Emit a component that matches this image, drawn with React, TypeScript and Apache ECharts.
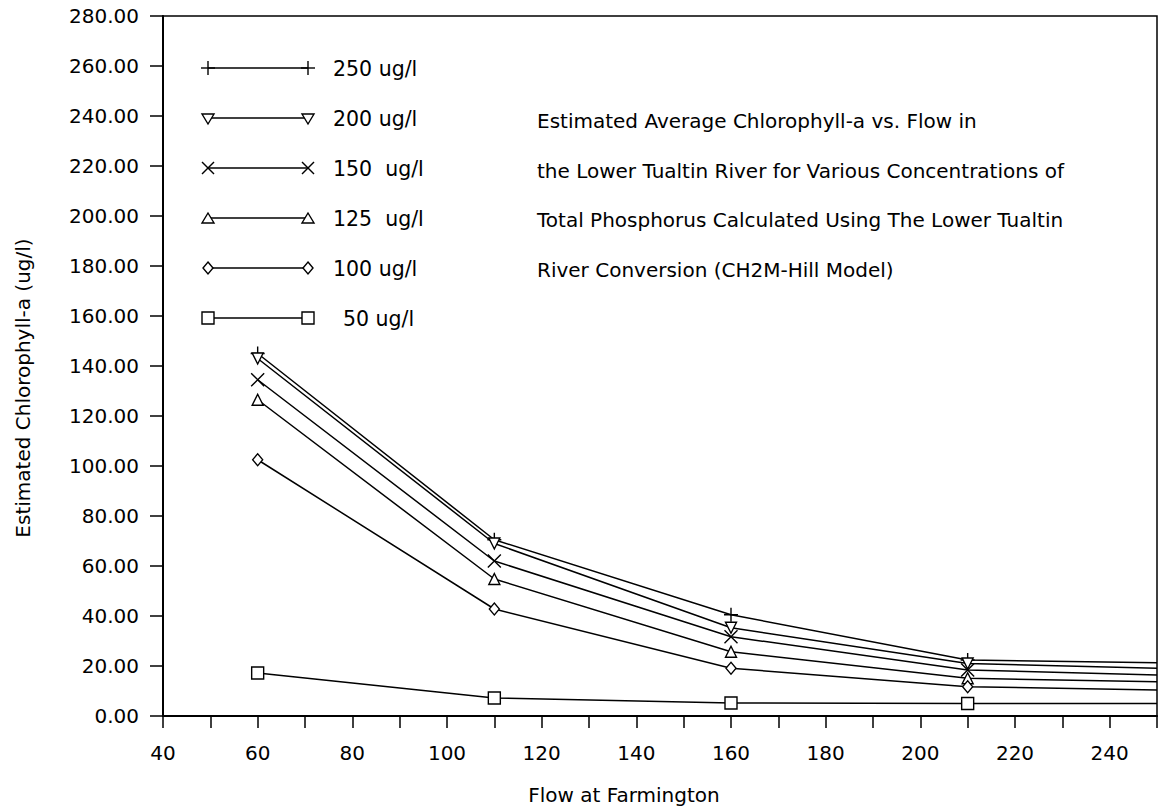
import React, { useEffect, useRef } from "react";
import * as echarts from "echarts";

// ---- data ----
const flows = [60, 110, 160, 210, 250];
const tp250 = [145, 70.5, 40.5, 22.4, 21.3];
const tp200 = [143, 69, 35.3, 21.0, 19.1];
const tp150 = [134.5, 62, 31.7, 18.4, 16.4];
const tp125 = [126.5, 54.8, 25.7, 15.1, 13.7];
const tp100 = [102.5, 42.8, 19.1, 11.7, 10.4];
const tp50 = [17.2, 7.2, 5.2, 5.0, 5.0];
const seriesNames = ["250 ug/l", "200 ug/l", "150  ug/l", "125  ug/l", "100 ug/l", "50 ug/l"];
const seriesValues = [tp250, tp200, tp150, tp125, tp100, tp50];
const markerKinds = ["plus", "triDown", "cross", "triUp", "diamond", "square"];
const titleLines = [
  "Estimated Average Chlorophyll-a vs. Flow in",
  "the Lower Tualtin River for Various Concentrations of",
  "Total Phosphorus Calculated Using The Lower Tualtin",
  "River Conversion (CH2M-Hill Model)",
];
const xAxisName = "Flow at Farmington";
const yAxisName = "Estimated Chlorophyll-a (ug/l)";
const xMin = 40;
const xMax = 250;
const xStep = 10;
const xLabelStep = 20;
const yMin = 0;
const yMax = 280;
const yStep = 20;

const FONT = "DejaVu Sans";
const INK = "#000";

const symbolFor: Record<string, any> = {
  plus: { symbol: "path://M5,0L5,10M0,5L10,5", symbolSize: 14, symbolRotate: 0 },
  triDown: { symbol: "triangle", symbolSize: 11, symbolRotate: 180 },
  cross: { symbol: "path://M0,0L10,10M10,0L0,10", symbolSize: 13, symbolRotate: 0 },
  triUp: { symbol: "triangle", symbolSize: 11, symbolRotate: 0 },
  diamond: { symbol: "path://M5,0L10,6L5,12L0,6Z", symbolSize: [10, 12], symbolRotate: 0 },
  square: { symbol: "rect", symbolSize: 12, symbolRotate: 0 },
};

function legendMarker(kind: string, cx: number, cy: number): any[] {
  const st = { stroke: INK, lineWidth: 1.4, fill: "#fff" };
  switch (kind) {
    case "plus":
      return [
        { type: "line", shape: { x1: cx - 7, y1: cy, x2: cx + 7, y2: cy }, style: st },
        { type: "line", shape: { x1: cx, y1: cy - 7, x2: cx, y2: cy + 7 }, style: st },
      ];
    case "cross":
      return [
        { type: "line", shape: { x1: cx - 6, y1: cy - 6, x2: cx + 6, y2: cy + 6 }, style: st },
        { type: "line", shape: { x1: cx + 6, y1: cy - 6, x2: cx - 6, y2: cy + 6 }, style: st },
      ];
    case "triDown":
      return [
        { type: "polygon", shape: { points: [[cx - 6, cy - 4], [cx + 6, cy - 4], [cx, cy + 6]] }, style: st },
      ];
    case "triUp":
      return [
        { type: "polygon", shape: { points: [[cx - 6, cy + 5], [cx + 6, cy + 5], [cx, cy - 5]] }, style: st },
      ];
    case "diamond":
      return [
        { type: "polygon", shape: { points: [[cx, cy - 6], [cx + 5, cy], [cx, cy + 6], [cx - 5, cy]] }, style: st },
      ];
    default:
      return [{ type: "rect", shape: { x: cx - 6, y: cy - 6, width: 12, height: 12 }, style: st }];
  }
}

export default function App() {
  const ref = useRef<HTMLDivElement>(null);

  useEffect(() => {
    document.body.style.margin = "0";
    document.body.style.overflow = "hidden";
    if (!ref.current) return;
    const chart = echarts.init(ref.current, null, { renderer: "svg" });

    const series = seriesValues.map((vals, i) => {
      const s = symbolFor[markerKinds[i]];
      return {
        name: seriesNames[i],
        type: "line",
        data: flows.map((f, j) =>
          j === flows.length - 1 ? { value: [f, vals[j]], symbol: "none" } : [f, vals[j]]
        ),
        symbol: s.symbol,
        symbolSize: s.symbolSize,
        symbolRotate: s.symbolRotate,
        showAllSymbol: true,
        clip: true,
        lineStyle: { color: INK, width: 1.5 },
        itemStyle: { color: "#fff", borderColor: INK, borderWidth: 1.4 },
        emphasis: { disabled: true },
        silent: true,
        z: 3,
      };
    });

    const legendGraphics: any[] = [];
    const legendX1 = 208;
    const legendX2 = 308;
    seriesNames.forEach((name, i) => {
      const cy = 68 + 50 * i;
      legendGraphics.push({
        type: "line",
        shape: { x1: legendX1, y1: cy, x2: legendX2, y2: cy },
        style: { stroke: INK, lineWidth: 1.4 },
      });
      legendGraphics.push(...legendMarker(markerKinds[i], legendX1, cy));
      legendGraphics.push(...legendMarker(markerKinds[i], legendX2, cy));
      legendGraphics.push({
        type: "text",
        x: i === seriesNames.length - 1 ? 343 : 333,
        y: cy + 1,
        style: {
          text: name,
          font: `20.5px "${FONT}"`,
          fill: INK,
          verticalAlign: "middle",
          textAlign: "left",
        },
      });
    });

    const titleGraphics = titleLines.map((t, i) => ({
      type: "text",
      x: 537,
      y: 121 + 49.5 * i,
      style: {
        text: t,
        font: `20px "${FONT}"`,
        fill: INK,
        verticalAlign: "middle",
        textAlign: "left",
      },
    }));

    chart.setOption({
      animation: false,
      backgroundColor: "#fff",
      grid: {
        left: 163,
        right: 2,
        top: 16,
        bottom: 94,
        show: true,
        borderColor: INK,
        borderWidth: 1.5,
        containLabel: false,
        outerBoundsMode: "none",
      },
      xAxis: {
        type: "value",
        min: xMin,
        max: xMax,
        interval: xStep,
        name: xAxisName,
        nameLocation: "middle",
        nameGap: 69,
        nameTextStyle: { fontFamily: FONT, fontSize: 20, color: INK, padding: [0, 72, 0, 0] },
        axisLine: { show: true, onZero: false, lineStyle: { color: INK, width: 2 } },
        axisTick: { show: true, inside: false, length: 12, lineStyle: { color: INK, width: 1.5 } },
        axisLabel: {
          fontFamily: FONT,
          fontSize: 20,
          color: INK,
          margin: 27,
          formatter: (v: number) => (v % xLabelStep === 0 ? String(v) : ""),
        },
        splitLine: { show: false },
      },
      yAxis: {
        type: "value",
        min: yMin,
        max: yMax,
        interval: yStep,
        name: yAxisName,
        nameLocation: "middle",
        nameGap: 130,
        nameRotate: 90,
        nameTextStyle: { fontFamily: FONT, fontSize: 20, color: INK, padding: [0, 44, 0, 0] },
        axisLine: { show: true, onZero: false, lineStyle: { color: INK, width: 2 } },
        axisTick: { show: true, inside: false, length: 13, lineStyle: { color: INK, width: 1.5 } },
        axisLabel: {
          fontFamily: FONT,
          fontSize: 20,
          color: INK,
          margin: 24,
          formatter: (v: number) => v.toFixed(2),
        },
        splitLine: { show: false },
      },
      graphic: [...legendGraphics, ...titleGraphics],
      series,
    });

    return () => {
      chart.dispose();
    };
  }, []);

  return (
    <div
      ref={ref}
      style={{ position: "absolute", left: 0, top: 0, width: 1159, height: 810, background: "#fff" }}
    />
  );
}
